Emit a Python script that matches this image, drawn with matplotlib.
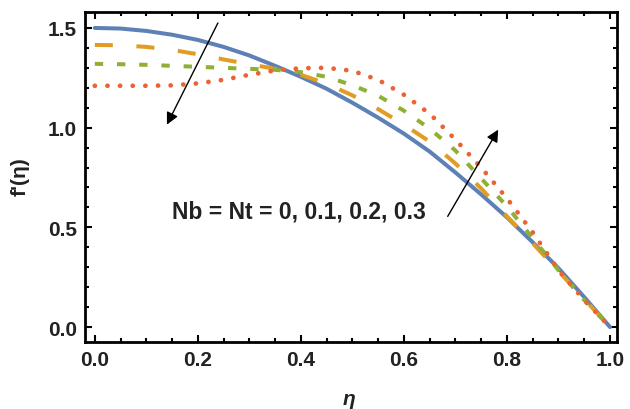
import matplotlib
matplotlib.use("Agg")
import matplotlib.pyplot as plt
from matplotlib.ticker import MultipleLocator

plt.rcParams['font.family'] = ['Liberation Sans', 'DejaVu Sans']
plt.rcParams['lines.scale_dashes'] = False

eta = [0.0, 0.05, 0.1, 0.15, 0.2, 0.25, 0.3, 0.35, 0.4, 0.45, 0.5,
       0.55, 0.6, 0.65, 0.7, 0.75, 0.8, 0.85, 0.9, 0.95, 1.0]

f_0 = [1.50, 1.497, 1.485, 1.466, 1.44, 1.405, 1.362, 1.31, 1.255, 1.195, 1.125,
       1.05, 0.97, 0.88, 0.775, 0.665, 0.55, 0.425, 0.295, 0.15, 0.0]
f_01 = [1.415, 1.413, 1.405, 1.39, 1.368, 1.342, 1.318, 1.295, 1.265, 1.22, 1.162,
        1.093, 1.015, 0.93, 0.82, 0.695, 0.555, 0.42, 0.28, 0.14, 0.0]
f_02 = [1.32, 1.318, 1.315, 1.31, 1.305, 1.30, 1.295, 1.29, 1.278, 1.255, 1.213,
        1.16, 1.085, 0.995, 0.885, 0.745, 0.605, 0.445, 0.285, 0.135, 0.0]
f_03 = [1.21, 1.21, 1.21, 1.212, 1.222, 1.24, 1.265, 1.287, 1.298, 1.30, 1.285,
        1.24, 1.165, 1.07, 0.94, 0.80, 0.645, 0.475, 0.285, 0.135, 0.0]

x_ticks = [0.0, 0.2, 0.4, 0.6, 0.8, 1.0]
y_ticks = [0.0, 0.5, 1.0, 1.5]
label_text = "Nb = Nt = 0, 0.1, 0.2, 0.3"

fig = plt.figure(figsize=(6.3, 4.1), dpi=100)
ax = fig.add_axes([0.1349, 0.1634, 0.8445, 0.8049])

ax.plot(eta, f_0, color='#5E81B5', lw=2.9, solid_capstyle='round', zorder=3)
l1, = ax.plot(eta, f_01, color='#E19C24', lw=2.9, zorder=4)
l1.set_dashes((13, 17))
l2, = ax.plot(eta, f_02, color='#8FB032', lw=2.9, zorder=5)
l2.set_dashes((6, 10))
l3, = ax.plot(eta, f_03, color='#EB6235', lw=3.4, dash_capstyle='round', zorder=6)
l3.set_dashes((0.1, 9.0))

ax.set_xlim(-0.019, 1.0136)
ax.set_ylim(-0.075, 1.58)
ax.set_xticks(x_ticks)
ax.set_yticks(y_ticks)
ax.set_xticklabels([f"{v:.1f}" for v in x_ticks])
ax.set_yticklabels([f"{v:.1f}" for v in y_ticks])
ax.xaxis.set_minor_locator(MultipleLocator(0.05))
ax.yaxis.set_minor_locator(MultipleLocator(0.1))
ax.tick_params(which='both', direction='in', top=True, right=True, width=1.5, color='black')
ax.tick_params(which='major', length=5)
ax.tick_params(which='minor', length=3)
ax.tick_params(labelsize=15, labelcolor='#222222', pad=6)
for lab in ax.get_xticklabels() + ax.get_yticklabels():
    lab.set_fontweight('bold')
for s in ax.spines.values():
    s.set_linewidth(2.0)

fig.text(20 / 630, 1 - 177 / 410, "f'(η)", rotation=90, ha='center', va='center',
         fontsize=15, fontweight='bold', color='#222222')
fig.text(349 / 630, 1 - 400 / 410, "η", ha='center', va='center',
         fontsize=15, fontweight='bold', fontstyle='italic', color='#222222')

ax.text(0.15, 0.58, label_text, ha='left', va='center', fontsize=16.5,
        fontweight='bold', color='#222222', zorder=7)

ax.annotate('', xy=(0.14, 1.015), xytext=(0.239, 1.525),
            arrowprops=dict(arrowstyle='-|>', color='black', lw=1.0,
                            mutation_scale=18, shrinkA=0, shrinkB=0), zorder=8)
ax.annotate('', xy=(0.783, 0.99), xytext=(0.685, 0.555),
            arrowprops=dict(arrowstyle='-|>', color='black', lw=1.0,
                            mutation_scale=18, shrinkA=0, shrinkB=0), zorder=8)

fig.savefig('out.png', dpi=100)
